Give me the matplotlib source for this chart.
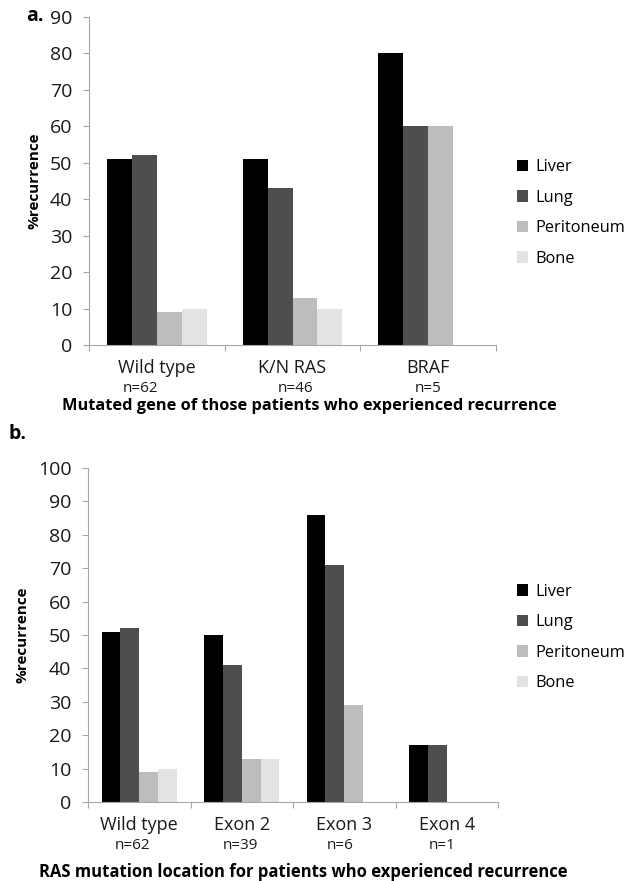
import matplotlib
matplotlib.use("Agg")
import matplotlib.pyplot as plt
import numpy as np

plt.rcParams['font.family'] = ['Open Sans', 'DejaVu Sans']

sites = ["Liver", "Lung", "Peritoneum", "Bone"]
site_colors = ["#000000", "#4e4e4e", "#bdbdbd", "#e3e3e3"]

# Panel a: mutated gene
genes = ["Wild type", "K/N RAS", "BRAF"]
genes_n = ["n=62", "n=46", "n=5"]
gene_liver = [51, 51, 80]
gene_lung = [52, 43, 60]
gene_peritoneum = [9, 13, 60]
gene_bone = [10, 10, 0]

# Panel b: RAS mutation location
exons = ["Wild type", "Exon 2", "Exon 3", "Exon 4"]
exons_n = ["n=62", "n=39", "n=6", "n=1"]
exon_liver = [51, 50, 86, 17]
exon_lung = [52, 41, 71, 17]
exon_peritoneum = [9, 13, 29, 0]
exon_bone = [10, 13, 0, 0]

W, H = 632, 881
fig = plt.figure(figsize=(W / 100, H / 100), dpi=100)
axis_grey = "#a6a6a6"
text_col = "#1a1a1a"


def px_box(left, top, right, bottom):
    return [left / W, 1 - bottom / H, (right - left) / W, (bottom - top) / H]


def draw_panel(ax, cats, ns, series, ymax, n_shift):
    k = len(cats)
    x = np.arange(k)
    bw = 0.184
    for i, (vals, col) in enumerate(zip(series, site_colors)):
        pos = x + 0.5 + (i - 1.5) * bw
        ax.bar(pos, vals, width=bw, color=col, label=sites[i], linewidth=0)
    ax.set_xlim(0, k)
    ax.set_ylim(0, ymax)
    ax.set_yticks(np.arange(0, ymax + 1, 10))
    ax.tick_params(axis='y', labelsize=14, length=4, width=0.8,
                   color=axis_grey, pad=8, labelcolor=text_col)
    ax.set_xticks(np.arange(k + 1))
    ax.set_xticklabels([])
    ax.set_xticks(x + 0.5, minor=True)
    ax.set_xticklabels(cats, minor=True)
    ax.tick_params(axis='x', which='major', length=4, width=0.8, color=axis_grey)
    ax.tick_params(axis='x', which='minor', length=0, pad=10, labelsize=13,
                   labelcolor=text_col)
    for s in ("top", "right"):
        ax.spines[s].set_visible(False)
    for s in ("left", "bottom"):
        ax.spines[s].set_color(axis_grey)
        ax.spines[s].set_linewidth(0.8)
    for j, lab in enumerate(ns):
        ax.annotate(lab, xy=(j + 0.5, 0), xycoords=('data', 'axes fraction'),
                    xytext=(n_shift[j], -31), textcoords='offset points',
                    ha='center', va='center', fontsize=11, color=text_col)


def add_legend(ax, center_y):
    ax.legend(loc='center left', bbox_to_anchor=(517 / W, 1 - center_y / H),
              bbox_transform=fig.transFigure, frameon=False, fontsize=11.8,
              handlelength=0.7, handleheight=0.7, handletextpad=0.4,
              labelspacing=0.88, borderpad=0, borderaxespad=0)


# Panel a
ax_a = fig.add_axes(px_box(89, 17, 496, 345))
draw_panel(ax_a, genes, genes_n,
           [gene_liver, gene_lung, gene_peritoneum, gene_bone], 90,
           [-12, 2, 0])
ax_a.set_ylabel("%recurrence", fontsize=11, fontweight='bold', labelpad=6)
fig.text(309 / W, 1 - 406 / H,
         "Mutated gene of those patients who experienced recurrence",
         ha='center', va='center', fontsize=11.8, fontweight='bold')
fig.text(26 / W, 1 - 16 / H, "a.", ha='left', va='center',
         fontsize=14, fontweight='bold')
add_legend(ax_a, 213)

# Panel b
ax_b = fig.add_axes(px_box(88, 468, 498, 802))
draw_panel(ax_b, exons, exons_n,
           [exon_liver, exon_lung, exon_peritoneum, exon_bone], 100,
           [-5, -1, -3, -3])
ax_b.set_ylabel("%recurrence", fontsize=11, fontweight='bold', labelpad=6)
fig.text(303 / W, 1 - 872 / H,
         "RAS mutation location for patients who experienced recurrence",
         ha='center', va='center', fontsize=12, fontweight='bold')
fig.text(8 / W, 1 - 434 / H, "b.", ha='left', va='center',
         fontsize=14, fontweight='bold')
add_legend(ax_b, 637.5)

fig.savefig("out.png", dpi=100)
